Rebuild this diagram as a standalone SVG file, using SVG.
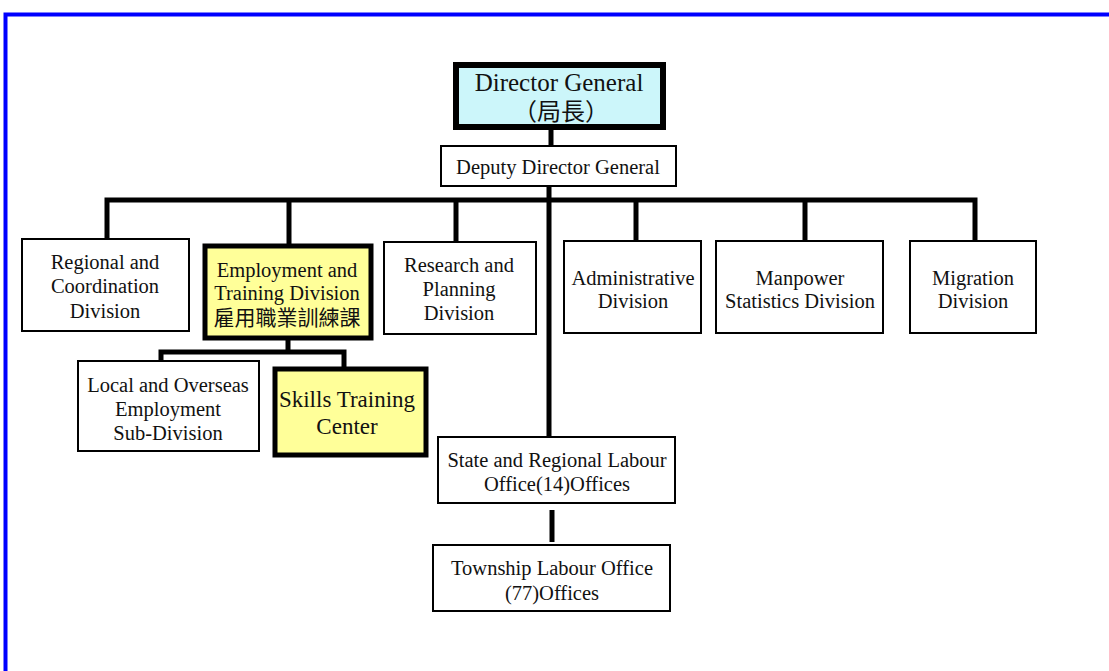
<svg xmlns="http://www.w3.org/2000/svg" width="1109" height="671" viewBox="0 0 1109 671">
<style>
.box{fill:#fff;stroke:#000;stroke-width:2}
.hl{fill:#ffff99;stroke:#000;stroke-width:5}
.dg{fill:#ccf6fa;stroke:#000;stroke-width:6}
.t{font-family:"Liberation Serif","Times New Roman",serif;font-size:20.5px;fill:#111;text-anchor:middle}
.big{font-size:25px}
.mid{font-size:23px}
.cjk{font-family:"Liberation Serif","Noto Sans CJK TC",serif;font-size:21px}
.ln{stroke:#000;stroke-width:5;fill:none}
</style>
<rect width="1109" height="671" fill="#fff"/>
<path d="M1109 14.5H5.5V671" fill="none" stroke="#0000ff" stroke-width="4"/>
<g id="connectors">
<line class="ln" x1="551" y1="129" x2="551" y2="145" stroke-width="6"/>
<line class="ln" x1="549" y1="186" x2="549" y2="437"/>
<path class="ln" d="M107 238V200H975V241"/>
<line class="ln" x1="289" y1="200" x2="289" y2="244"/>
<line class="ln" x1="456" y1="200" x2="456" y2="241"/>
<line class="ln" x1="636" y1="200" x2="636" y2="241"/>
<line class="ln" x1="805" y1="200" x2="805" y2="241"/>
<path class="ln" d="M288 339V352M161 361V352H344V367"/>
<line class="ln" x1="552" y1="510" x2="552" y2="542"/>
</g>
<g id="director">
<rect class="dg" x="456" y="65" width="207" height="62"/>
<text class="t big" x="559" y="91">Director General</text>
<text class="t cjk" x="561" y="120" style="font-size:24px">（局長）</text>
</g>
<g id="deputy">
<rect class="box" x="441" y="146" width="235" height="40"/>
<text class="t" x="558" y="174">Deputy Director General</text>
</g>
<g id="regional">
<rect class="box" x="22" y="239" width="167" height="92"/>
<text class="t" x="105" y="269">Regional and</text>
<text class="t" x="105" y="293">Coordination</text>
<text class="t" x="105" y="318">Division</text>
</g>
<g id="employment">
<rect class="hl" x="205" y="246" width="166" height="92"/>
<text class="t" x="287" y="277">Employment and</text>
<text class="t" x="287" y="300">Training Division</text>
<text class="t cjk" x="287" y="325">雇用職業訓練課</text>
</g>
<g id="research">
<rect class="box" x="384" y="242" width="152" height="92"/>
<text class="t" x="459" y="272">Research and</text>
<text class="t" x="459" y="296">Planning</text>
<text class="t" x="459" y="320">Division</text>
</g>
<g id="admin">
<rect class="box" x="564" y="241" width="137" height="92"/>
<text class="t" x="633" y="285">Administrative</text>
<text class="t" x="633" y="308">Division</text>
</g>
<g id="manpower">
<rect class="box" x="716" y="241" width="167" height="92"/>
<text class="t" x="800" y="285">Manpower</text>
<text class="t" x="800" y="308">Statistics Division</text>
</g>
<g id="migration">
<rect class="box" x="910" y="241" width="126" height="92"/>
<text class="t" x="973" y="285">Migration</text>
<text class="t" x="973" y="308">Division</text>
</g>
<g id="local">
<rect class="box" x="78" y="361" width="181" height="90"/>
<text class="t" x="168" y="392">Local and Overseas</text>
<text class="t" x="168" y="416">Employment</text>
<text class="t" x="168" y="440">Sub-Division</text>
</g>
<g id="skills">
<rect class="hl" x="275" y="369" width="151" height="86"/>
<text class="t mid" x="347" y="407">Skills Training</text>
<text class="t mid" x="347" y="434">Center</text>
</g>
<g id="state">
<rect class="box" x="438" y="437" width="237" height="66"/>
<text class="t" x="557" y="467">State and Regional Labour</text>
<text class="t" x="557" y="491">Office(14)Offices</text>
</g>
<g id="township">
<rect class="box" x="433" y="545" width="237" height="66"/>
<text class="t" x="552" y="575">Township Labour Office</text>
<text class="t" x="552" y="600">(77)Offices</text>
</g>
</svg>
